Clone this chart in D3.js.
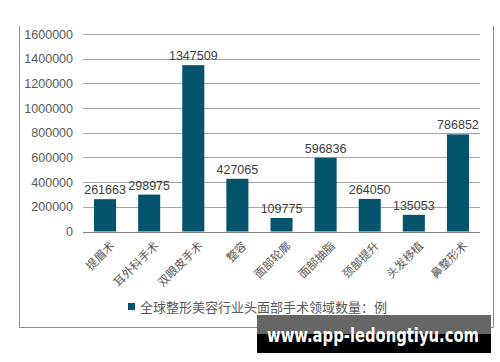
<!DOCTYPE html>
<html>
<head>
<meta charset="utf-8">
<script src="https://cdn.jsdelivr.net/npm/d3@7"></script>
<style>
  body { margin: 0; background: #fff; }
  svg { display: block; font-family: "Liberation Sans", Arial, "Noto Sans CJK SC", sans-serif; }
</style>
</head>
<body>
<div id="chart"></div>
<script>
var categories = ["提眉术", "耳外科手术", "双眼皮手术", "整容", "面部轮廓", "面部抽脂", "颈部提升", "头发移植", "鼻整形术"];
var values = [261663, 298975, 1347509, 427065, 109775, 596836, 264050, 135053, 786852];
var yTicks = [0, 200000, 400000, 600000, 800000, 1000000, 1200000, 1400000, 1600000];
var legendLabel = "全球整形美容行业头面部手术领域数量：例";
var watermark = "www.app-ledongtiyu.com";

var W = 500, H = 362;
var barColor = "#03536c";

var svg = d3.select("#chart").append("svg")
    .attr("width", W)
    .attr("height", H);

// outer chart frame
svg.append("path")
    .attr("d", "M19.5,26 V327.5 H493.5 V26")
    .attr("fill", "none")
    .attr("stroke", "#8c8c8c")
    .attr("stroke-width", 1);

var x = d3.scaleBand()
    .domain(categories)
    .range([83, 480])
    .paddingInner(0.5)
    .paddingOuter(0.25);

var y = d3.scaleLinear()
    .domain([0, 1600000])
    .range([231.5, 34]);

// gridlines
svg.append("g")
    .selectAll("line")
    .data(yTicks.slice(1))
    .enter().append("line")
      .attr("x1", 83)
      .attr("x2", 480)
      .attr("y1", function(d) { return Math.round(y(d)) + 0.5; })
      .attr("y2", function(d) { return Math.round(y(d)) + 0.5; })
      .attr("stroke", "#a6a6a6")
      .attr("stroke-width", 1);

// y axis labels
var yAxis = svg.append("g")
    .attr("transform", "translate(83,0)")
    .call(d3.axisLeft(y).tickValues(yTicks).tickSize(0).tickPadding(10).tickFormat(d3.format("d")));
yAxis.select(".domain").remove();
yAxis.selectAll("text")
    .attr("fill", "#595959")
    .style("font-size", "12.5px");

// bars
svg.append("g")
    .selectAll("rect")
    .data(values)
    .enter().append("rect")
      .attr("x", function(d, i) { return x(categories[i]); })
      .attr("y", function(d) { return y(d); })
      .attr("width", x.bandwidth())
      .attr("height", function(d) { return y(0) - y(d); })
      .attr("fill", barColor);

// value labels
svg.append("g")
    .selectAll("text")
    .data(values)
    .enter().append("text")
      .attr("x", function(d, i) { return x(categories[i]) + x.bandwidth() / 2; })
      .attr("y", function(d) { return y(d) - 5; })
      .attr("text-anchor", "middle")
      .attr("fill", "#404040")
      .style("font-size", "12.5px")
      .text(function(d) { return d; });

// x axis
var xAxis = svg.append("g")
    .attr("transform", "translate(0," + (Math.round(y(0)) + 0.5) + ")")
    .call(d3.axisBottom(x).tickSize(0).tickPadding(6));
xAxis.select(".domain")
    .attr("stroke", "#7f7f7f")
    .attr("d", "M83,0 H480");
xAxis.selectAll("text")
    .attr("fill", "#595959")
    .style("font-size", "11.5px")
    .style("font-family", "'Noto Sans CJK SC', sans-serif")
    .attr("text-anchor", "end")
    .attr("dy", "0.35em")
    .attr("transform", "translate(3,7) rotate(-45)");

// legend
var legend = svg.append("g")
    .attr("transform", "translate(128,303)");
legend.append("rect")
    .attr("width", 7)
    .attr("height", 7)
    .attr("fill", barColor);
legend.append("text")
    .attr("x", 12)
    .attr("y", 4)
    .attr("dy", "0.35em")
    .attr("fill", "#595959")
    .style("font-size", "13px")
    .style("font-family", "'Noto Sans CJK SC', sans-serif")
    .text(legendLabel);

// watermark
var wm = svg.append("g");
wm.append("rect")
    .attr("x", 257).attr("y", 315)
    .attr("width", 234).attr("height", 38)
    .attr("fill", "#000");
wm.append("rect")
    .attr("x", 257).attr("y", 315)
    .attr("width", 234).attr("height", 19)
    .attr("fill", "#666");
wm.append("text")
    .attr("x", 373)
    .attr("y", 342)
    .attr("text-anchor", "middle")
    .attr("fill", "#fff")
    .style("font-size", "20px")
    .style("font-weight", "bold")
    .style("font-family", "'DejaVu Sans', sans-serif")
    .attr("textLength", 212)
    .attr("lengthAdjust", "spacingAndGlyphs")
    .text(watermark);
</script>
</body>
</html>
